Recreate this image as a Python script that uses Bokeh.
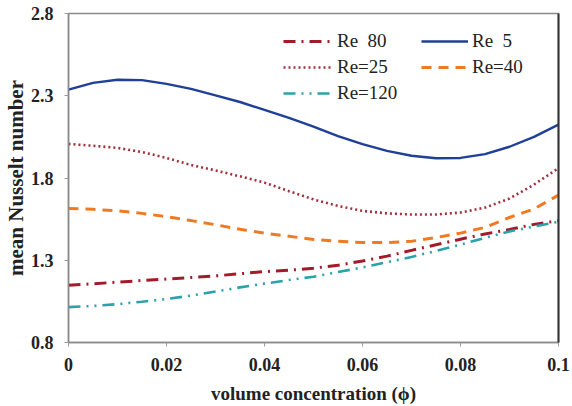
from bokeh.plotting import figure
from bokeh.models import Legend, LegendItem, FixedTicker, Range1d, LinearAxis
from bokeh.embed import file_html
from bokeh.resources import INLINE

# volume concentration (phi)
phi = [0.0, 0.005, 0.01, 0.015, 0.02, 0.025, 0.03, 0.035, 0.04, 0.045, 0.05,
       0.055, 0.06, 0.065, 0.07, 0.075, 0.08, 0.085, 0.09, 0.095, 0.10]

# mean Nusselt number per Reynolds number
nu_re5 = [2.337, 2.378, 2.397, 2.395, 2.372, 2.342, 2.302, 2.262, 2.214, 2.165, 2.112,
          2.055, 2.006, 1.965, 1.935, 1.920, 1.922, 1.945, 1.990, 2.050, 2.125]
nu_re25 = [2.007, 1.996, 1.983, 1.958, 1.922, 1.879, 1.846, 1.810, 1.772, 1.720, 1.670,
           1.630, 1.600, 1.585, 1.578, 1.578, 1.590, 1.620, 1.675, 1.760, 1.860]
nu_re40 = [1.615, 1.610, 1.600, 1.585, 1.565, 1.541, 1.516, 1.488, 1.465, 1.446, 1.426,
           1.415, 1.408, 1.408, 1.415, 1.438, 1.465, 1.500, 1.560, 1.612, 1.696]
nu_re80 = [1.148, 1.157, 1.167, 1.177, 1.186, 1.195, 1.205, 1.218, 1.231, 1.239, 1.252,
           1.270, 1.295, 1.325, 1.360, 1.394, 1.428, 1.460, 1.487, 1.518, 1.540]
nu_re120 = [1.015, 1.022, 1.033, 1.048, 1.064, 1.085, 1.110, 1.135, 1.158, 1.180, 1.200,
            1.228, 1.256, 1.288, 1.320, 1.357, 1.395, 1.436, 1.475, 1.505, 1.534]

x_ticks = [0.0, 0.02, 0.04, 0.06, 0.08, 0.10]
x_tick_labels = ["0", "0.02", "0.04", "0.06", "0.08", "0.1"]
y_ticks = [0.8, 1.3, 1.8, 2.3, 2.8]
y_tick_labels = ["0.8", "1.3", "1.8", "2.3", "2.8"]

SERIF = "Liberation Serif"

p = figure(width=572, height=406, output_backend="svg", toolbar_location=None,
           x_range=Range1d(0, 0.1), y_range=Range1d(0.8, 2.8),
           min_border_left=67, min_border_right=14, min_border_top=13,
           min_border_bottom=63)
p.xgrid.visible = False
p.ygrid.visible = False
p.background_fill_color = "white"
p.border_fill_color = "white"
p.outline_line_color = "#8a8a8a"
p.outline_line_width = 1.5

for ax, ticks, labels in ((p.xaxis[0], x_ticks, x_tick_labels),
                          (p.yaxis[0], y_ticks, y_tick_labels)):
    ax.ticker = FixedTicker(ticks=ticks)
    ax.major_label_overrides = {t: l for t, l in zip(ticks, labels)}
    ax.minor_tick_line_color = None
    ax.axis_line_color = "#8a8a8a"
    ax.axis_line_width = 1.5
    ax.major_tick_line_color = "#9a9a9a"
    ax.major_tick_out = 4
    ax.major_tick_in = 0
    ax.major_label_text_font = SERIF
    ax.major_label_text_font_style = "bold"
    ax.major_label_text_font_size = "18px"
    ax.major_label_text_color = "#222222"
    ax.axis_label_text_font = SERIF
    ax.axis_label_text_font_style = "bold"
    ax.axis_label_text_color = "#222222"

p.xaxis[0].axis_label = "volume concentration (\u03d5)"
p.xaxis[0].axis_label_text_font_size = "19px"
p.xaxis[0].major_label_standoff = 11
p.xaxis[0].axis_label_standoff = 9
p.yaxis[0].axis_label = "mean Nusselt number"
p.yaxis[0].axis_label_text_font_size = "21px"
p.yaxis[0].major_label_standoff = 11
p.yaxis[0].axis_label_standoff = 0

# darker right-hand frame edge
right = LinearAxis(ticker=FixedTicker(ticks=[]), axis_line_color="#333333",
                   axis_line_width=2, major_label_text_font_size="0px")
p.add_layout(right, "right")

r80 = p.line(phi, nu_re80, line_color="#a31b2b", line_width=3, line_dash="12 6 2 6")
r5 = p.line(phi, nu_re5, line_color="#1f3f98", line_width=2.4)
r25 = p.line(phi, nu_re25, line_color="#a3303c", line_width=2.6, line_dash="2 3")
r40 = p.line(phi, nu_re40, line_color="#f07a22", line_width=3, line_dash="10 7")
r120 = p.line(phi, nu_re120, line_color="#2ba2aa", line_width=2.6, line_dash="12 6 2 6 2 6")

def make_legend(items, loc, glyph_w):
    return Legend(items=items, location=loc, orientation="vertical",
                  padding=0, margin=0, spacing=0,
                  glyph_width=glyph_w, glyph_height=26, label_height=26,
                  label_standoff=4, border_line_color=None,
                  background_fill_alpha=0,
                  label_text_font=SERIF, label_text_font_size="19px",
                  label_text_color="#222222")

leg1 = make_legend([LegendItem(label="Re  80", renderers=[r80]),
                    LegendItem(label="Re=25", renderers=[r25]),
                    LegendItem(label="Re=120", renderers=[r120])], (215, 236), 50)
leg2 = make_legend([LegendItem(label="Re  5", renderers=[r5]),
                    LegendItem(label="Re=40", renderers=[r40])], (353, 262), 47)
p.add_layout(leg1, "center")
p.add_layout(leg2, "center")

open("out.html", "w").write(file_html(p, INLINE))
